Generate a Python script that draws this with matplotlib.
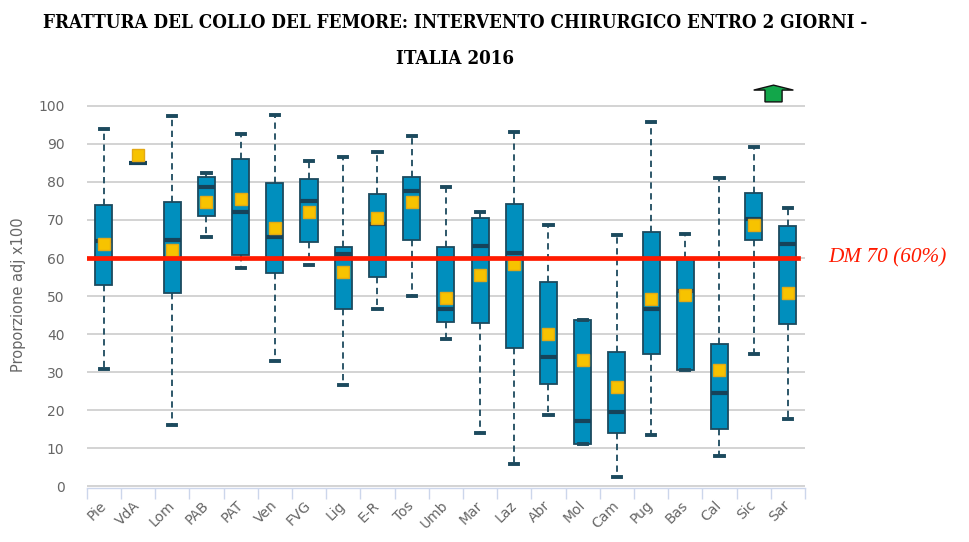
import matplotlib
matplotlib.use("Agg")
import matplotlib.pyplot as plt
from matplotlib import font_manager as fm
from matplotlib.patches import Polygon

# ---------------- data ----------------
regions = ["Pie", "VdA", "Lom", "PAB", "PAT", "Ven", "FVG", "Lig", "E-R", "Tos", "Umb",
           "Mar", "Laz", "Abr", "Mol", "Cam", "Pug", "Bas", "Cal", "Sic", "Sar"]
whis_hi = [93.9, 85.0, 97.3, 82.2, 92.5, 97.6, 85.6, 86.6, 87.8, 92.1, 78.6,
           72.0, 93.2, 68.7, 43.8, 66.1, 95.7, 66.4, 81.1, 89.2, 73.1]
q3 = [74.0, 85.0, 74.6, 81.2, 86.1, 79.8, 80.8, 63.0, 76.9, 81.2, 63.0,
      70.6, 74.3, 53.8, 43.7, 35.2, 66.9, 60.0, 37.4, 77.2, 68.5]
median = [64.6, 85.0, 64.7, 78.6, 72.0, 65.4, 75.0, 61.1, 69.0, 77.6, 46.7,
          63.2, 61.3, 34.1, 17.2, 19.5, 46.5, 51.4, 24.5, 70.2, 63.8]
q1 = [52.8, 85.0, 50.7, 71.0, 60.8, 56.0, 64.1, 46.5, 54.9, 64.8, 43.3,
      42.9, 36.3, 26.9, 11.2, 14.1, 34.9, 30.6, 15.1, 64.8, 42.6]
whis_lo = [30.8, 85.0, 16.2, 65.4, 57.3, 32.9, 58.1, 26.7, 46.5, 50.1, 38.8,
           14.0, 5.9, 18.7, 11.2, 2.5, 13.6, 30.6, 8.0, 34.7, 17.7]
means = [63.6, 87.0, 62.1, 74.6, 75.6, 67.8, 72.0, 56.4, 70.6, 74.7, 49.5,
         55.5, 58.4, 40.0, 33.2, 26.2, 49.3, 50.3, 30.6, 68.7, 50.8]
target_value = 60
target_label = "DM 70 (60%)"
title_line1 = "FRATTURA DEL COLLO DEL FEMORE: INTERVENTO CHIRURGICO ENTRO 2 GIORNI -"
title_line2 = "ITALIA 2016"
ylabel = "Proporzione adj x100"
yticks = list(range(0, 101, 10))

# ---------------- fonts ----------------
title_font = None
for f in fm.fontManager.ttflist:
    if "SerifCondensed-Bold." in f.fname:
        title_font = fm.FontProperties(fname=f.fname, size=13.5)
        break
if title_font is None:
    title_font = fm.FontProperties(family="Liberation Serif", weight="bold", size=11.4)

# ---------------- figure ----------------
fig = plt.figure(figsize=(9.7, 5.42), dpi=100)
ax = fig.add_axes([0.0894, 0.0996, 0.7405, 0.7124])

stats = []
for i, name in enumerate(regions):
    stats.append(dict(label=name, whislo=whis_lo[i], q1=q1[i], med=median[i],
                      q3=q3[i], whishi=whis_hi[i], mean=means[i], fliers=[]))

positions = list(range(1, len(regions) + 1))
edge = "#1c4a5e"
ax.bxp(stats, positions=positions, widths=0.5, patch_artist=True, showmeans=True,
       boxprops=dict(facecolor="#008fbe", edgecolor=edge, linewidth=1.3),
       medianprops=dict(color="#16435a", linewidth=3.0),
       whiskerprops=dict(color=edge, linewidth=1.3, linestyle=(0, (3.5, 2.5))),
       capprops=dict(color=edge, linewidth=2.8),
       capwidths=0.24,
       meanprops=dict(marker="s", markersize=8.8, markerfacecolor="#f7c300",
                      markeredgecolor="#e3a915", markeredgewidth=1.0),
       zorder=3)

ax.axhline(target_value, xmin=0, xmax=0.99, color="#ff1a00", linewidth=3.4, zorder=5)
ax.text(1.032, target_value, target_label, transform=ax.get_yaxis_transform(),
        ha="left", va="center", color="#ff1a00", fontsize=15.3, style="italic",
        family="Liberation Serif")

ax.set_xlim(0.5, len(regions) + 0.5)
ax.set_ylim(-0.4, 101)
ax.set_yticks(yticks)
ax.set_yticklabels([str(t) for t in yticks])
ax.grid(axis="y", color="#d3d3d3", linewidth=1.4, zorder=0)
ax.set_axisbelow(True)

ax.set_xticks(positions)
ax.set_xticklabels(regions, rotation=45, ha="right", va="center", rotation_mode="anchor")
ax.set_xticks([p - 0.5 for p in positions] + [len(regions) + 0.5], minor=True)
ax.tick_params(axis="x", which="major", length=0, pad=11, labelsize=10, labelcolor="#666666")
ax.tick_params(axis="x", which="minor", length=8, width=1, color="#ccd6eb")
ax.tick_params(axis="y", length=0, pad=16, labelsize=10, labelcolor="#666666")

for s in ["top", "right", "left"]:
    ax.spines[s].set_visible(False)
ax.spines["bottom"].set_color("#ccd6eb")
ax.spines["bottom"].set_linewidth(1.0)
ax.spines["bottom"].set_zorder(2)

ax.set_ylabel(ylabel, fontsize=10.5, color="#666666", labelpad=9)

# green "up" arrow marker above chart
ax_x = 20.58
arrow = Polygon([(ax_x - 0.58, 104.1), (ax_x, 105.4), (ax_x + 0.58, 104.1),
                 (ax_x + 0.25, 104.1), (ax_x + 0.25, 101.0), (ax_x - 0.25, 101.0),
                 (ax_x - 0.25, 104.1)],
                closed=True, facecolor="#12a64a", edgecolor="#111111", linewidth=1.0,
                clip_on=False, zorder=6)
ax.add_patch(arrow)

fig.text(0.469, 1 - 23 / 542, title_line1, ha="center", va="center",
         fontproperties=title_font, color="#000000")
fig.text(0.469, 1 - 59 / 542, title_line2, ha="center", va="center",
         fontproperties=title_font, color="#000000")

fig.savefig("out.png", dpi=100)
